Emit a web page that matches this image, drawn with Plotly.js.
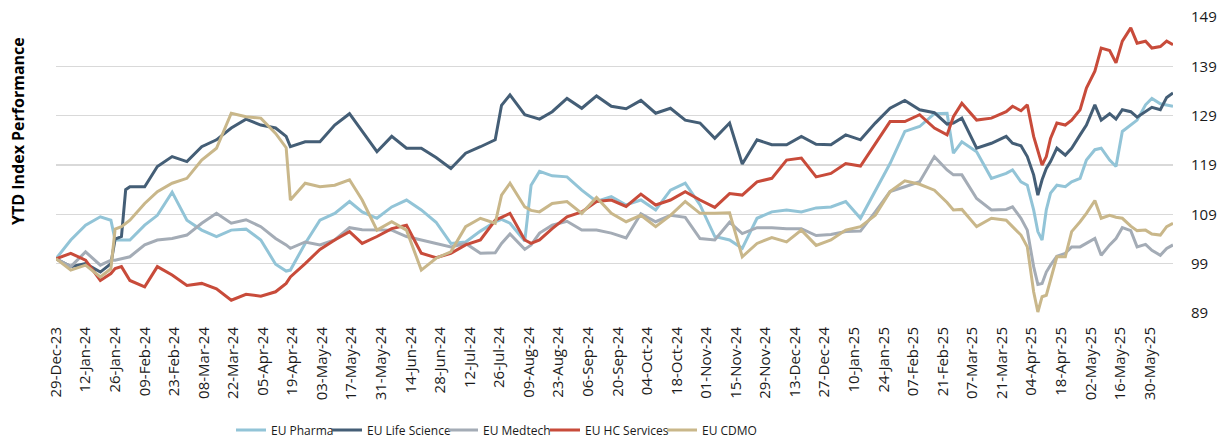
<!DOCTYPE html>
<html>
<head>
<meta charset="utf-8">
<script src="https://cdn.plot.ly/plotly-3.0.1.min.js"></script>
<style>
html,body{margin:0;padding:0;background:#fff;}
#chart{width:1228px;height:441px;}
</style>
</head>
<body>
<div id="chart"></div>
<script>
const dates = [
'2023-12-29','2024-01-05','2024-01-12','2024-01-19','2024-01-24','2024-01-26','2024-01-29','2024-01-31','2024-02-02','2024-02-09','2024-02-15','2024-02-22','2024-02-29',
'2024-03-07','2024-03-14','2024-03-21','2024-03-28','2024-04-04','2024-04-11','2024-04-16','2024-04-18','2024-04-25','2024-05-02','2024-05-09',
'2024-05-16','2024-05-22','2024-05-29','2024-06-05','2024-06-12','2024-06-19','2024-06-26','2024-07-03','2024-07-10','2024-07-17',
'2024-07-24','2024-07-27','2024-07-31','2024-08-07','2024-08-10','2024-08-14','2024-08-20','2024-08-27','2024-09-03','2024-09-10','2024-09-17','2024-09-24',
'2024-10-01','2024-10-08','2024-10-15','2024-10-22','2024-10-29','2024-11-05','2024-11-12','2024-11-18','2024-11-25','2024-12-02',
'2024-12-09','2024-12-16','2024-12-23','2024-12-30','2025-01-06','2025-01-13','2025-01-20','2025-01-27','2025-02-03','2025-02-10',
'2025-02-17','2025-02-23','2025-02-26','2025-03-02','2025-03-09','2025-03-16',
'2025-03-23','2025-03-26','2025-03-30','2025-04-02','2025-04-05','2025-04-07','2025-04-09','2025-04-11','2025-04-13','2025-04-16',
'2025-04-20','2025-04-23','2025-04-27','2025-04-30','2025-05-04','2025-05-07','2025-05-11','2025-05-14','2025-05-17','2025-05-21',
'2025-05-24','2025-05-28','2025-05-31','2025-06-04','2025-06-07','2025-06-10'
];

const euPharma = [
100,103.8,106.8,108.5,107.8,103.8,103.8,103.8,103.8,106.8,108.8,113.5,107.8,
105.8,104.5,105.8,106.0,103.8,98.9,97.5,97.7,103.1,107.8,109.2,
111.6,109.5,108.2,110.5,111.9,109.9,107.4,103.1,103.4,105.6,
107.5,108.0,107.2,103.6,114.9,117.7,116.8,116.6,113.9,111.6,112.6,110.9,
111.9,109.9,113.9,115.3,110.9,104.5,103.8,102.1,108.2,109.5,
109.9,109.5,110.3,110.5,111.6,108.2,113.6,119.3,125.8,126.8,
129.4,129.5,121.4,123.7,121.7,116.3,
117.3,118.0,115.6,114.9,109.9,105.5,103.8,109.9,113.3,114.9,
114.6,115.6,116.3,120.0,122.1,122.4,120.0,118.7,125.8,127.1,
128.1,131.2,132.5,131.4,131.2,130.9
];

const euLifeScience = [
100,98.4,99.0,97.3,99.0,104.0,104.5,114.0,114.6,114.6,118.7,120.7,119.7,
122.7,124.1,126.5,128.3,127.1,126.5,124.8,122.7,123.7,123.7,127.1,
129.4,125.8,121.7,124.8,122.4,122.4,120.5,118.3,121.4,122.7,
124.1,131.1,133.2,129.2,128.8,128.3,129.8,132.5,130.5,133.0,130.9,130.4,
132.1,129.5,130.5,128.1,127.5,124.4,127.5,119.2,124.1,123.1,
123.1,124.8,123.2,123.1,125.1,124.1,127.5,130.5,132.1,130.2,
129.6,127.3,127.5,128.5,122.4,123.4,
124.8,123.4,122.9,120.7,117.0,112.9,116.0,118.3,119.7,122.4,
121.0,122.4,125.1,127.1,131.2,128.1,129.4,128.3,130.2,129.8,
128.7,129.8,130.7,130.2,132.7,133.6
];

const euMedtech = [
100,98.4,101.4,98.7,99.7,99.7,100.0,100.2,100.4,102.8,103.8,104.1,104.8,
107.2,109.2,107.2,107.9,106.5,104.1,102.8,102.1,103.4,102.8,103.8,
106.3,105.9,105.8,105.8,104.5,103.8,103.1,102.4,103.1,101.1,
101.2,103.1,105.0,101.9,102.8,105.2,106.8,107.6,105.8,105.8,105.2,104.2,
109.1,107.5,108.8,108.4,104.1,103.8,107.4,105.1,106.3,106.3,
106.1,106.1,104.7,104.9,105.5,105.6,109.5,113.6,114.6,115.6,
120.7,118.0,117.0,117.0,112.2,109.9,
110.0,110.5,108.2,105.8,98.4,94.8,95.0,97.3,98.7,100.5,
101.1,102.4,102.4,103.1,104.1,100.7,102.8,104.1,106.3,105.7,
102.4,102.9,101.7,100.7,102.1,102.8
];

const euHCServices = [
100,101.1,99.7,95.6,97.0,98.0,98.4,97.0,95.6,94.3,98.4,96.7,94.6,
95.0,93.9,91.6,92.8,92.4,93.3,95.0,96.3,99.0,101.9,103.8,
105.5,103.1,104.5,106.1,106.8,101.1,100.2,101.1,102.8,103.8,
107.8,108.4,109.2,103.8,103.1,103.8,106.1,108.5,109.5,111.6,111.9,110.6,
113.1,110.9,111.9,113.6,111.9,110.4,113.2,112.9,115.6,116.3,
120.0,120.4,116.6,117.3,119.3,118.8,123.4,127.8,127.8,129.2,
126.5,125.1,128.8,131.5,128.1,128.5,
129.8,130.9,130.0,131.2,124.8,122.1,119.0,120.7,124.4,127.5,
127.1,128.1,130.2,134.6,138.0,142.7,142.2,139.7,144.1,146.8,
143.7,144.1,142.7,143.0,144.1,143.4
];

const euCDMO = [
100,97.7,98.7,96.3,98.0,106.0,106.5,107.2,107.8,111.2,113.6,115.3,116.3,
120.0,122.4,129.5,128.8,128.5,125.4,122.5,111.9,115.3,114.6,114.9,
116.0,111.9,105.8,107.5,105.8,97.7,100.1,101.4,106.5,108.2,
107.2,112.9,115.3,110.5,109.8,109.5,111.2,111.6,109.2,112.4,109.2,107.5,
108.8,106.5,108.8,111.6,109.2,109.2,109.3,100.4,103.1,104.3,
103.4,105.8,102.7,103.8,105.8,106.5,108.8,113.6,115.8,115.1,
113.9,111.4,109.9,110.0,106.5,108.2,
107.8,106.5,104.8,102.4,93.3,89.2,92.3,92.6,95.6,100.4,
100.4,105.5,107.5,109.2,111.8,108.2,108.8,108.4,108.2,106.6,
105.7,105.8,105.0,104.8,106.5,107.2
];

const seriesNames = ['EU Pharma','EU Life Science','EU Medtech','EU HC Services','EU CDMO'];
const seriesValues = [euPharma, euLifeScience, euMedtech, euHCServices, euCDMO];
const seriesColors = ['#92C4D7','#445E76','#A4ACB6','#C84B3A','#C9B78A'];
const legendWidths = [51, 71, 57, 72, 52];

const yTicks = [89, 99, 109, 119, 129, 139, 149];

const traces = seriesNames.map((n, i) => ({
  type: 'scatter',
  mode: 'lines',
  name: n,
  x: dates,
  y: seriesValues[i],
  line: {color: seriesColors[i], width: 3, shape: 'linear'},
  legendwidth: legendWidths[i],
  hoverinfo: 'skip'
}));

const font = "'Open Sans', 'DejaVu Sans', sans-serif";

const layout = {
  width: 1228,
  height: 441,
  margin: {l: 56, r: 55, t: 17, b: 128, pad: 0, autoexpand: false},
  paper_bgcolor: '#ffffff',
  plot_bgcolor: '#ffffff',
  font: {family: font, size: 14, color: '#1a1a1a'},
  showlegend: true,
  legend: {
    orientation: 'h',
    xref: 'container', yref: 'container',
    x: 231 / 1228, xanchor: 'left',
    y: 1 - 430 / 441, yanchor: 'middle',
    font: {family: font, size: 12, color: '#1a1a1a'},
    itemwidth: 30,
    tracegroupgap: 0,
    borderwidth: 0,
    bgcolor: 'rgba(0,0,0,0)'
  },
  xaxis: {
    type: 'date',
    automargin: false,
    range: ['2023-12-29', '2025-06-10'],
    tick0: '2023-12-29',
    dtick: 14 * 86400000,
    tickformat: '%d-%b-%y',
    tickangle: -90,
    showgrid: false,
    zeroline: false,
    showline: false,
    ticks: '',
    ticklabelstandoff: 10,
    tickfont: {family: font, size: 15, color: '#1a1a1a'},
    fixedrange: true
  },
  yaxis: {
    side: 'right',
    automargin: false,
    range: [89, 149],
    tickmode: 'array',
    tickvals: yTicks,
    ticktext: yTicks.map(String),
    showgrid: true,
    gridcolor: '#d9d9d9',
    gridwidth: 1.5,
    zeroline: false,
    showline: false,
    ticks: '',
    ticklabelstandoff: 17,
    tickfont: {family: font, size: 15, color: '#1a1a1a'},
    fixedrange: true
  },
  annotations: [{
    text: '<b>YTD Index Performance</b>',
    textangle: -90,
    xref: 'paper', yref: 'paper',
    x: -0.034, y: 0.615,
    xanchor: 'center', yanchor: 'middle',
    showarrow: false,
    font: {family: font, size: 16, color: '#000000'}
  }]
};

Plotly.newPlot('chart', traces, layout, {displayModeBar: false, staticPlot: true});
</script>
</body>
</html>
